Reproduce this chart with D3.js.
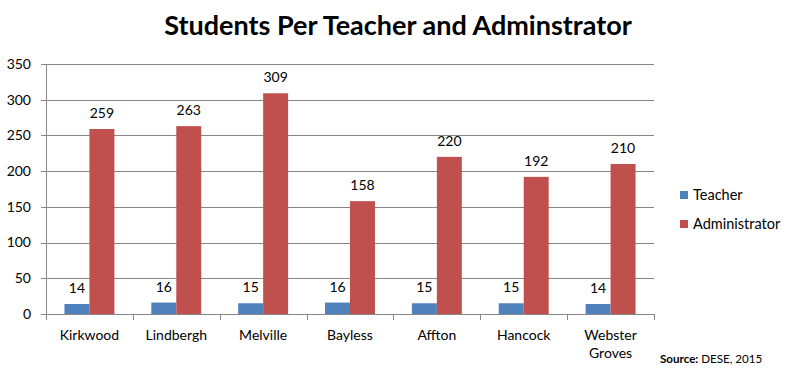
<!DOCTYPE html>
<html>
<head>
<meta charset="utf-8">
<script src="https://cdn.jsdelivr.net/npm/d3@7"></script>
<style>
  body { margin: 0; background: #fff; }
  svg text { font-family: Lato, "Open Sans", sans-serif; fill: #000; }
</style>
</head>
<body>
<div id="chart"></div>
<script>
'use strict';

const schools = ['Kirkwood', 'Lindbergh', 'Melville', 'Bayless', 'Affton', 'Hancock', 'Webster Groves'];
const teacher = [14, 16, 15, 16, 15, 15, 14];
const administrator = [259, 263, 309, 158, 220, 192, 210];
const seriesNames = ['Teacher', 'Administrator'];
const yTicks = [0, 50, 100, 150, 200, 250, 300, 350];

const width = 797, height = 372;
const margin = {top: 64, right: 143, bottom: 58, left: 46};
const colors = ['#4F81BD', '#C0504D'];

const svg = d3.select('#chart').append('svg')
    .attr('width', width)
    .attr('height', height);

// title
svg.append('text')
    .attr('x', 398)
    .attr('y', 35)
    .attr('text-anchor', 'middle')
    .attr('font-size', 27)
    .attr('font-weight', 'bold')
    .text('Students Per Teacher and Adminstrator');

const x = d3.scaleBand()
    .domain(schools)
    .range([margin.left, width - margin.right]);

const xInner = d3.scaleBand()
    .domain(seriesNames)
    .range([0, x.bandwidth() * 0.575]);

const y = d3.scaleLinear()
    .domain([0, 350])
    .range([height - margin.bottom, margin.top]);

// gridlines + y labels
const grid = svg.append('g');
grid.selectAll('line')
    .data(yTicks)
    .enter()
    .append('line')
    .attr('x1', margin.left - 5)
    .attr('x2', width - margin.right)
    .attr('y1', d => Math.round(y(d)) + 0.5)
    .attr('y2', d => Math.round(y(d)) + 0.5)
    .attr('stroke', '#868686')
    .attr('stroke-width', 1);

grid.selectAll('text')
    .data(yTicks)
    .enter()
    .append('text')
    .attr('x', 31)
    .attr('y', d => y(d))
    .attr('dy', '0.35em')
    .attr('text-anchor', 'end')
    .attr('font-size', 14)
    .text(d => d);

// y axis line
svg.append('line')
    .attr('x1', margin.left + 0.5)
    .attr('x2', margin.left + 0.5)
    .attr('y1', y(350))
    .attr('y2', y(0))
    .attr('stroke', '#868686');

// category ticks
svg.append('g')
    .selectAll('line')
    .data(schools.concat(['_end']))
    .enter()
    .append('line')
    .attr('x1', (d, i) => Math.round(margin.left + i * x.step()) + 0.5)
    .attr('x2', (d, i) => Math.round(margin.left + i * x.step()) + 0.5)
    .attr('y1', y(0))
    .attr('y2', y(0) + 6)
    .attr('stroke', '#868686');

// bars
const groups = svg.append('g')
    .selectAll('g')
    .data(schools)
    .enter()
    .append('g')
    .attr('transform', d => 'translate(' + (x(d) + (x.bandwidth() - xInner.range()[1]) / 2) + ',0)');

const values = [teacher, administrator];

groups.selectAll('rect')
    .data((d, i) => seriesNames.map((s, j) => ({s: s, v: values[j][i], c: colors[j]})))
    .enter()
    .append('rect')
    .attr('x', d => xInner(d.s))
    .attr('width', xInner.bandwidth())
    .attr('y', d => y(d.v))
    .attr('height', d => y(0) - y(d.v))
    .attr('fill', d => d.c);

// value labels
groups.selectAll('text')
    .data((d, i) => seriesNames.map((s, j) => ({s: s, v: values[j][i]})))
    .enter()
    .append('text')
    .attr('x', d => xInner(d.s) + xInner.bandwidth() / 2)
    .attr('y', d => y(d.v) - 11)
    .attr('text-anchor', 'middle')
    .attr('font-size', 14)
    .text(d => d.v);

// x labels
const xl = svg.append('g')
    .selectAll('text')
    .data(schools)
    .enter()
    .append('text')
    .attr('x', d => x(d) + x.bandwidth() / 2)
    .attr('y', 340)
    .attr('text-anchor', 'middle')
    .attr('font-size', 14);

xl.each(function(d) {
    let words = d.split(' ');
    let t = d3.select(this);
    if (words.length > 1) {
        words.forEach((w, k) => t.append('tspan')
            .attr('x', x(d) + x.bandwidth() / 2)
            .attr('dy', k === 0 ? 0 : 18)
            .text(w));
    } else {
        t.text(d);
    }
});

// legend
const legend = svg.append('g')
    .selectAll('g')
    .data(seriesNames)
    .enter()
    .append('g')
    .attr('transform', (d, i) => 'translate(680,' + (191 + i * 29) + ')');

legend.append('rect')
    .attr('width', 8)
    .attr('height', 8)
    .attr('fill', (d, i) => colors[i]);

legend.append('text')
    .attr('x', 13)
    .attr('y', 4)
    .attr('dy', '0.35em')
    .attr('font-size', 14.5)
    .text(d => d);

// source note
const src = svg.append('text')
    .attr('x', 660)
    .attr('y', 363)
    .attr('font-size', 11.6);
src.append('tspan').attr('font-weight', 'bold').text('Source: ');
src.append('tspan').text('DESE, 2015');
</script>
</body>
</html>
